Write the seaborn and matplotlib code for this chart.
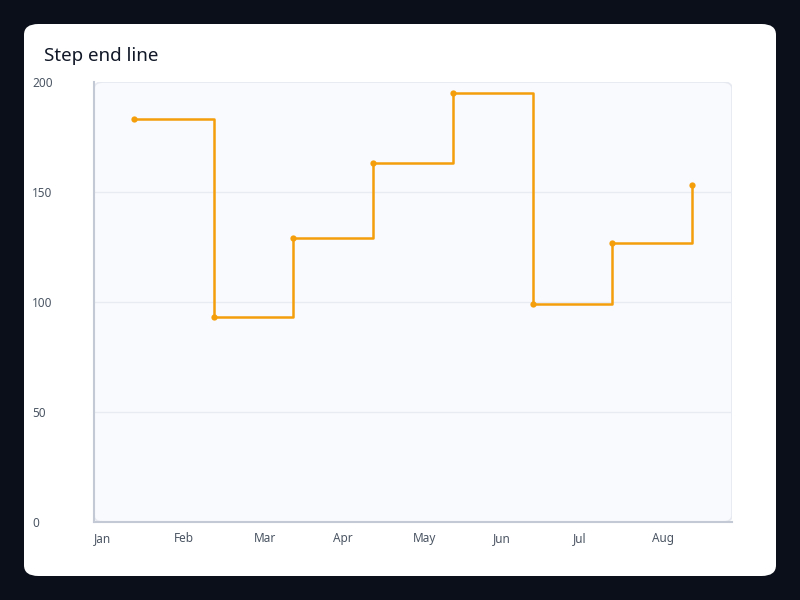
import matplotlib
matplotlib.use("Agg")
import matplotlib.pyplot as plt
import seaborn as sns
import pandas as pd
from matplotlib.patches import FancyBboxPatch

months = ['Jan', 'Feb', 'Mar', 'Apr', 'May', 'Jun', 'Jul', 'Aug']
values = [183, 93, 129, 163, 195, 99, 127, 153]
y_ticks = [0, 50, 100, 150, 200]

df = pd.DataFrame({'pos': range(len(months)), 'month': months, 'value': values})

sns.set_theme(style='white')
plt.rcParams['font.family'] = ['Noto Sans', 'DejaVu Sans']

fig = plt.figure(figsize=(8, 6), dpi=100)
fig.patch.set_facecolor('#0b0f19')

# white card behind everything
card = FancyBboxPatch((24 / 800, 24 / 600), 752 / 800, 552 / 600,
                      boxstyle='round,pad=0,rounding_size=0.018',
                      transform=fig.transFigure, facecolor='white', edgecolor='none',
                      zorder=-5)
fig.patches.append(card)
fig.text(44 / 800, 1 - 56 / 600, 'Step end line', fontsize=13.5, color='#111827',
         va='center', ha='left')

ax = fig.add_axes([94 / 800, 78 / 600, 638 / 800, 440 / 600])
ax.set_facecolor('none')
# plot background with rounded corners
bg = FancyBboxPatch((0, 0), 1, 1, boxstyle='round,pad=0,rounding_size=0.015',
                    transform=ax.transAxes, facecolor='#f9fafd', edgecolor='#e6e9f0',
                    linewidth=1.2, zorder=0)
ax.add_patch(bg)

sns.lineplot(data=df, x='pos', y='value', ax=ax, color='#f59e0b', linewidth=1.8,
             drawstyle='steps-post', marker='o', markersize=4.5, markeredgewidth=0,
             zorder=3)

ax.set_xlim(-0.5, len(months) - 0.5)
ax.set_ylim(0, 200)
ax.set_xticks([p - 0.5 for p in df['pos']])
ax.set_xticklabels(months, ha='left')
ax.set_yticks(y_ticks)
ax.set_yticklabels([str(t) for t in y_ticks], ha='left')
ax.tick_params(axis='y', length=0, pad=44.6, labelsize=8.5, labelcolor='#4b5563')
ax.tick_params(axis='x', length=0, pad=7.5, labelsize=8.5, labelcolor='#4b5563')
for t in y_ticks[1:-1]:
    ax.axhline(t, color='#e8ebf2', linewidth=1, zorder=1)

for side in ['top', 'right']:
    ax.spines[side].set_visible(False)
for side in ['left', 'bottom']:
    ax.spines[side].set_color('#c3cad6')
    ax.spines[side].set_linewidth(1.5)
ax.set_xlabel('')
ax.set_ylabel('')

fig.savefig('out.png', dpi=100, facecolor=fig.get_facecolor())
